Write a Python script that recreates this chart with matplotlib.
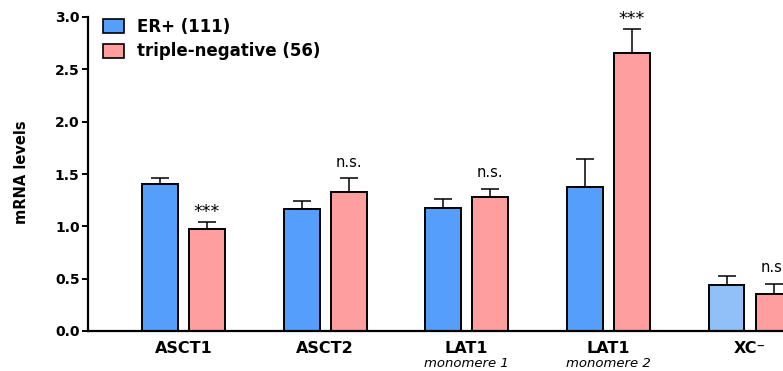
import matplotlib
matplotlib.use("Agg")
import matplotlib.pyplot as plt
import numpy as np
from matplotlib.patches import Patch
from matplotlib.transforms import blended_transform_factory

plt.rcParams["font.family"] = ["DejaVu Sans"]

genes = ["ASCT1", "ASCT2", "LAT1", "LAT1", "XC\u207b"]
sublabels = ["", "", "monomere 1", "monomere 2", ""]
er_mean = [1.40, 1.165, 1.175, 1.38, 0.44]
er_sem = [0.06, 0.08, 0.09, 0.265, 0.085]
tn_mean = [0.97, 1.33, 1.277, 2.66, 0.353]
tn_sem = [0.07, 0.13, 0.083, 0.225, 0.097]
marks = ["***", "n.s.", "n.s.", "***", "n.s."]

BLUE = "#559ffa"
LIGHT_BLUE = "#91bff8"
RED = "#ff9e9e"

fig = plt.figure(figsize=(7.83, 3.71), dpi=100)
# axes run past the right edge, as in the reference crop
ax = fig.add_axes([88 / 783, 40 / 371, (835 - 88) / 783, (331 - 17) / 371])

x = np.arange(len(genes))
w = 0.254
off = 0.166
blue_colors = [BLUE] * (len(genes) - 1) + [LIGHT_BLUE]

ax.bar(x - off, er_mean, w, color=blue_colors, edgecolor="black", linewidth=1.4, zorder=2)
ax.bar(x + off, tn_mean, w, color=RED, edgecolor="black", linewidth=1.4, zorder=2)
zeros = np.zeros(len(genes))
ax.errorbar(x - off, er_mean, yerr=[zeros, er_sem], fmt="none", ecolor="black",
            elinewidth=1.1, capsize=6.8, capthick=1.1, zorder=1)
ax.errorbar(x + off, tn_mean, yerr=[zeros, tn_sem], fmt="none", ecolor="black",
            elinewidth=1.1, capsize=6.8, capthick=1.1, zorder=1)

for xi, m, s, lab in zip(x, tn_mean, tn_sem, marks):
    if lab == "***":
        ax.text(xi + off, m + s + 0.045, lab, ha="center", va="baseline",
                fontsize=12.5, clip_on=False)
    else:
        ax.text(xi + off, m + s + 0.11, lab, ha="center", va="baseline",
                fontsize=10.5, clip_on=False)

ax.set_xlim(-0.674, 4.6)
ax.set_ylim(0, 3.0)
yt = np.arange(0, 3.01, 0.5)
ax.set_yticks(yt)
ax.set_yticklabels([f"{v:.1f}" for v in yt], fontsize=10, fontweight="bold")
ax.set_xticks(x)
ax.set_xticklabels(genes, fontsize=11.5, fontweight="bold")
ax.tick_params(axis="x", length=0, pad=7)
ax.tick_params(axis="y", length=4, width=1.4, direction="out", pad=2)

trans = blended_transform_factory(ax.transData, ax.transAxes)
for xi, sub in zip(x, sublabels):
    if sub:
        ax.text(xi, -(367 - 331) / 314, sub, transform=trans, ha="center",
                va="baseline", fontsize=9.5, fontstyle="italic")

for side in ["top", "right"]:
    ax.spines[side].set_visible(False)
ax.spines["left"].set_linewidth(1.6)
ax.spines["bottom"].set_linewidth(1.6)

ax.set_ylabel("mRNA levels", fontsize=10.5, fontweight="bold")
ax.yaxis.set_label_coords(-(88 - 29) / 747, 0.505)

handles = [Patch(facecolor=BLUE, edgecolor="black", linewidth=1.2),
           Patch(facecolor=RED, edgecolor="black", linewidth=1.2)]
fig.legend(handles, ["ER+ (111)", "triple-negative (56)"], loc="upper left",
           bbox_to_anchor=(103 / 783, 1 - 18 / 371), frameon=False,
           prop={"weight": "bold", "size": 12}, handlelength=1.26,
           handleheight=0.9, handletextpad=0.78, labelspacing=0.38,
           borderaxespad=0, borderpad=0)

fig.savefig("out.png", dpi=100)
